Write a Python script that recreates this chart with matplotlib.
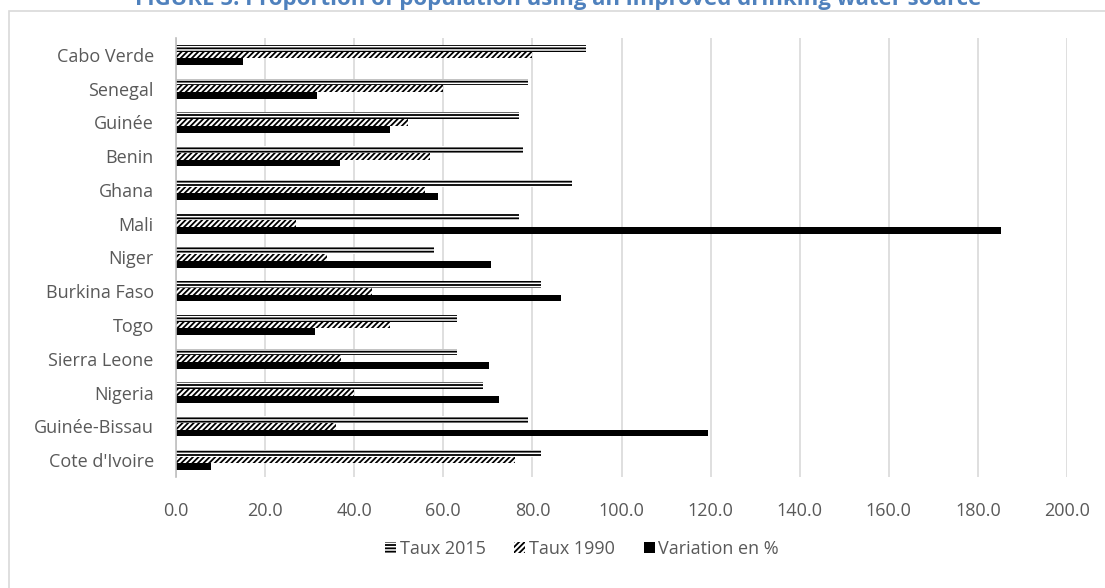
import matplotlib.pyplot as plt
from matplotlib.patches import Rectangle, Patch
import numpy as np

plt.rcParams['font.family'] = ['Open Sans', 'DejaVu Sans']
plt.rcParams['hatch.linewidth'] = 1.3

countries = ["Cabo Verde", "Senegal", "Guinée", "Benin", "Ghana", "Mali", "Niger",
             "Burkina Faso", "Togo", "Sierra Leone", "Nigeria", "Guinée-Bissau",
             "Cote d'Ivoire"]
taux_2015 = [92, 79, 77, 78, 89, 77, 58, 82, 63, 63, 69, 79, 82]
taux_1990 = [80, 60, 52, 57, 56, 27, 34, 44, 48, 37, 40, 36, 76]
variation = [15.0, 31.7, 48.1, 36.8, 58.9, 185.2, 70.6, 86.4, 31.3, 70.3, 72.5, 119.4, 7.9]

grey_txt = '#595959'

fig = plt.figure(figsize=(11.05, 5.88), dpi=100)
ax = fig.add_axes([176 / 1105, 1 - 477 / 588, (1067 - 176) / 1105, (477 - 38) / 588])

y = np.arange(len(countries))[::-1]
h = 0.2
ax.barh(y + h, taux_2015, height=h, color='white', edgecolor='black',
        linewidth=0, hatch='-----', label='Taux 2015', zorder=3)
ax.barh(y, taux_1990, height=h, color='white', edgecolor='black',
        linewidth=0, hatch='//////', label='Taux 1990', zorder=3)
ax.barh(y - h, variation, height=h, color='black', edgecolor='black',
        linewidth=0, label='Variation en %', zorder=3)

ax.set_xlim(0, 200)
ax.set_ylim(-0.5, len(countries) - 0.5)
ax.set_xticks(np.arange(0, 201, 20))
ax.set_xticklabels([f"{v:.1f}" for v in np.arange(0, 201, 20)])
ax.set_yticks(y)
ax.set_yticklabels(countries)
ax.tick_params(axis='both', length=0, labelsize=13, colors=grey_txt)
ax.tick_params(axis='x', pad=18)
ax.tick_params(axis='y', pad=16)
ax.grid(axis='x', color='#D9D9D9', linewidth=1.2, zorder=0)
for s in ['top', 'right', 'bottom']:
    ax.spines[s].set_visible(False)
ax.spines['left'].set_color('#BFBFBF')
ax.spines['left'].set_linewidth(1.2)
ax.spines['left'].set_zorder(4)

handles = [Patch(facecolor='white', edgecolor='black', linewidth=0, hatch='-----'),
           Patch(facecolor='white', edgecolor='black', linewidth=0, hatch='//////'),
           Patch(facecolor='black', edgecolor='black', linewidth=0)]
fig.legend(handles, ['Taux 2015', 'Taux 1990', 'Variation en %'],
           loc='center', bbox_to_anchor=(582 / 1105, 1 - 549 / 588), ncol=3,
           frameon=False, fontsize=13, labelcolor=grey_txt,
           handlelength=0.6, handleheight=0.6, handletextpad=0.2, columnspacing=1.6)

# outer chart border (right and bottom lie outside the picture)
fig.patches.append(Rectangle((9 / 1105, -0.1), 1.2, 1 - 11 / 588 + 0.1,
                             transform=fig.transFigure, fill=False,
                             edgecolor='#D9D9D9', linewidth=1.2))

fig.text(558 / 1105, 1 - 5 / 588,
         "FIGURE 5: Proportion of population using an improved drinking water source",
         ha='center', va='baseline', fontsize=16, fontweight='bold', color='#4F81BD')

fig.savefig('out.png', dpi=100)
